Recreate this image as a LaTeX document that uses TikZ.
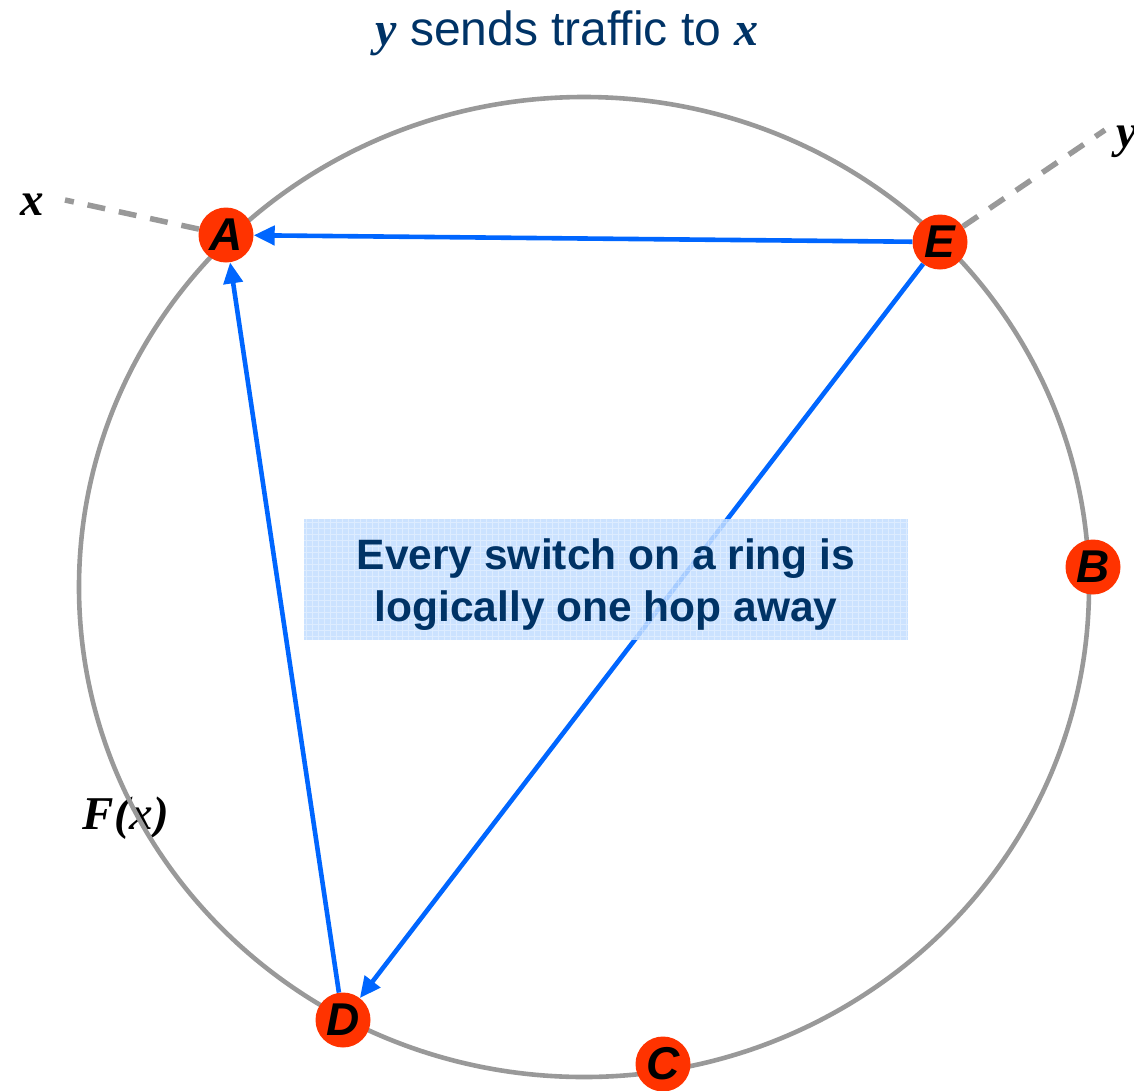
\documentclass[tikz,border=0pt]{standalone}
\usepackage{fontspec}
\setmainfont{Liberation Serif}
\setsansfont{Liberation Sans}
\usetikzlibrary{arrows.meta}
\definecolor{ringgray}{HTML}{999999}
\definecolor{swred}{HTML}{FF3300}
\definecolor{arrblue}{HTML}{0066FF}
\definecolor{navy}{HTML}{003366}
\definecolor{boxfill}{HTML}{C2DDFF}
\begin{document}
\begin{tikzpicture}[x=1pt,y=-1pt,
 switchnode/.style={circle,fill=swred,minimum size=55pt,inner sep=0pt,font=\sffamily\bfseries\itshape\fontsize{46}{46}\selectfont},
 ringline/.style={draw=ringgray,line width=4.6pt},
 link/.style={draw=arrblue,line width=4.6pt,-{Triangle[length=21pt,width=19pt]}},
 ext/.style={draw=ringgray,line width=5.5pt,dash pattern=on 18pt off 14pt},
 lbl/.style={font=\bfseries\itshape\fontsize{47}{47}\selectfont}]
\useasboundingbox (0,0) rectangle (1134,1090);
% labels
\node[font=\sffamily\fontsize{48}{48}\selectfont, text=navy] (title) at (567,33)
  {{\rmfamily\bfseries\itshape y} sends traffic to {\rmfamily\bfseries\itshape x}};
\node[lbl] (xl) at (32,205) {x};
\node[lbl] (yl) at (1127,142) {y};
\node[lbl] (F) at (126,818) {F(x)};
% ring
\draw[ringline] (584,587) ellipse [x radius=505pt, y radius=490pt];
% switches
\node[switchnode] (A) at (226,235) {A};
\node[switchnode] (E) at (940,242) {E};
\node[switchnode] (B) at (1093,567) {B};
\node[switchnode] (D) at (343,1020) {D};
\node[switchnode] (C) at (663,1064) {C};
% external hosts
\coordinate (xe) at (65,200);
\coordinate (ye) at (1105,130);
\draw[ext] (A) -- (xe);
\draw[ext] (E) -- (ye);
% logical links
\draw[link] (E) -- (A);
\draw[link] (D) -- (A);
\draw[link] (E) -- (D);
% note box
\node[fill=boxfill, fill opacity=0.85, minimum width=604pt, minimum height=121pt, inner sep=0pt] (note) at (606,579.5) {};
\begin{scope}
\clip (304,519) rectangle (908,640);
\draw[white, opacity=0.35, line width=0.8pt, step=6pt] (304,519) grid (908,640);
\end{scope}
\node[align=center, text=navy, font=\sffamily\bfseries\fontsize{42.5}{52}\selectfont] (notetext) at (606,585)
  {Every switch on a ring is\\logically one hop away};
\end{tikzpicture}
\end{document}
